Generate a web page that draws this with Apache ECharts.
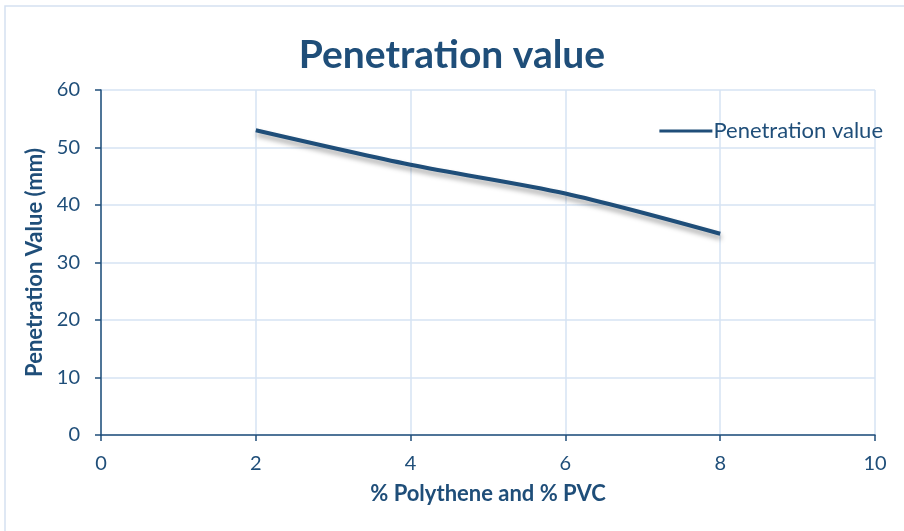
<!DOCTYPE html>
<html>
<head>
<meta charset="utf-8">
<script src="https://cdn.jsdelivr.net/npm/echarts@6/dist/echarts.min.js"></script>
<style>
  html, body { margin: 0; padding: 0; background: #fff; }
  #chart { width: 904px; height: 531px; }
</style>
</head>
<body>
<div id="chart"></div>
<script>
'use strict';

// data
var xValues = [2, 4, 6, 8];
var penetration = [53, 47, 42, 35];
var seriesName = 'Penetration value';

var textColor = '#1F4E79';
var lineColor = '#1F4E79';
var gridColor = '#D6E3F3';

var points = xValues.map(function (x, i) { return [x, penetration[i]]; });

var myChart = echarts.init(document.getElementById('chart'));
myChart.setOption({
  animation: false,
  textStyle: { fontFamily: 'Lato, "Open Sans", sans-serif' },
  graphic: [{
    type: 'rect',
    shape: { x: 5, y: 6, width: 910, height: 540 },
    style: { fill: 'none', stroke: '#D5E1F1', lineWidth: 1.5 },
    silent: true,
  }],
  title: {
    text: 'Penetration value',
    left: 'center',
    top: 31,
    textStyle: { color: textColor, fontSize: 39, fontWeight: 'bold', fontFamily: 'Lato, sans-serif' },
  },
  legend: {
    data: [seriesName],
    right: 16,
    top: 115,
    itemWidth: 53,
    itemHeight: 3,
    itemGap: 4,
    icon: 'rect',
    textStyle: { color: textColor, fontSize: 22, padding: [0, 0, 0, -4] },
  },
  grid: {
    left: 101,
    right: 29,
    top: 90,
    bottom: 96,
  },
  xAxis: {
    type: 'value',
    min: 0,
    max: 10,
    interval: 2,
    name: '% Polythene and % PVC',
    nameLocation: 'middle',
    nameGap: 48,
    nameTextStyle: { color: textColor, fontSize: 22, fontWeight: 'bold' },
    axisLine: { lineStyle: { color: lineColor, width: 1.5 } },
    axisTick: { show: true, length: 6, lineStyle: { color: lineColor, width: 1.5 } },
    axisLabel: { color: textColor, fontSize: 20, margin: 19 },
    splitLine: { show: true, lineStyle: { color: gridColor, width: 1.5 } },
  },
  yAxis: {
    type: 'value',
    min: 0,
    max: 60,
    interval: 10,
    name: 'Penetration Value (mm)',
    nameLocation: 'middle',
    nameGap: 55,
    nameTextStyle: { color: textColor, fontSize: 22, fontWeight: 'bold' },
    axisLine: { show: true, lineStyle: { color: lineColor, width: 1.5 } },
    axisTick: { show: true, length: 6, lineStyle: { color: lineColor, width: 1.5 } },
    axisLabel: { color: textColor, fontSize: 20, margin: 21 },
    splitLine: { show: true, lineStyle: { color: gridColor, width: 1.5 } },
  },
  series: [{
    name: seriesName,
    type: 'line',
    data: points,
    smooth: 0.3,
    symbol: 'none',
    color: '#1F4E79',
    lineStyle: {
      width: 4,
      color: '#1F4E79',
      shadowColor: 'rgba(0, 0, 0, 0.35)',
      shadowBlur: 5,
      shadowOffsetX: 1,
      shadowOffsetY: 4,
    },
  }],
});
</script>
</body>
</html>
